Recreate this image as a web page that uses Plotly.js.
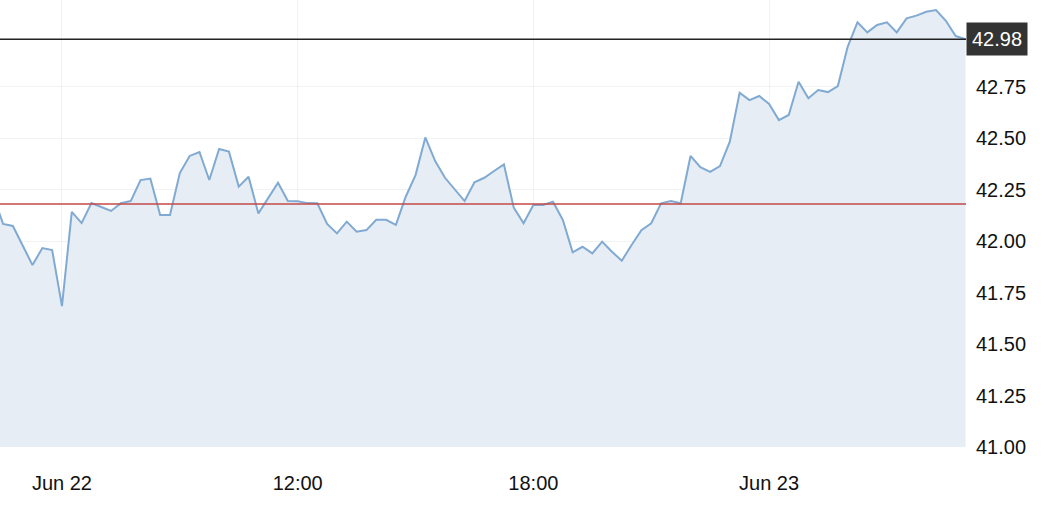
<!DOCTYPE html>
<html>
<head>
<meta charset="utf-8">
<script src="https://cdn.plot.ly/plotly-3.0.1.min.js"></script>
<style>
  html, body { margin: 0; padding: 0; background: #ffffff; }
  #chart { width: 1060px; height: 516px; }
</style>
</head>
<body>
<div id="chart"></div>
<script>
// 15-minute price samples (first value starts just before the visible window)
const prices = [
  42.223, 42.083, 42.073, 41.978, 41.883, 41.966, 41.956, 41.684, 42.141, 42.087,
  42.184, 42.165, 42.146, 42.184, 42.194, 42.296, 42.303, 42.126, 42.126, 42.330,
  42.413, 42.432, 42.296, 42.447, 42.434, 42.264, 42.312, 42.134, 42.209, 42.283,
  42.194, 42.193, 42.184, 42.183, 42.083, 42.037, 42.094, 42.045, 42.053, 42.103,
  42.103, 42.078, 42.215, 42.320, 42.503, 42.388, 42.307, 42.248, 42.194, 42.285,
  42.307, 42.340, 42.372, 42.162, 42.086, 42.175, 42.175, 42.191, 42.102, 41.945,
  41.972, 41.940, 41.997, 41.948, 41.904, 41.981, 42.053, 42.086, 42.183, 42.194,
  42.183, 42.413, 42.358, 42.336, 42.364, 42.482, 42.720, 42.684, 42.704, 42.665,
  42.587, 42.612, 42.773, 42.693, 42.733, 42.723, 42.752, 42.943, 43.062, 43.013,
  43.049, 43.062, 43.013, 43.081, 43.094, 43.113, 43.121, 43.069, 42.995, 42.98
];
const firstSlot = -1;                       // slot of the first sample
const tickSlots = [6, 30, 54, 78];
const tickLabels = ["Jun 22", "12:00", "18:00", "Jun 23"];
const yTicks = [41.00, 41.25, 41.50, 41.75, 42.00, 42.25, 42.50, 42.75];
const previousClose = 42.18;
const lastPrice = 42.98;

const slots = prices.map((_, i) => firstSlot + i);

const trace = {
  x: slots,
  y: prices,
  type: "scatter",
  mode: "lines",
  line: { color: "rgb(128,170,210)", width: 2 },
  fill: "tozeroy",
  fillcolor: "rgb(231,237,244)",
  hoverinfo: "skip"
};

const layout = {
  width: 1060,
  height: 516,
  margin: { l: 0, r: 94, t: 0, b: 69, pad: 0 },
  paper_bgcolor: "#ffffff",
  plot_bgcolor: "#ffffff",
  showlegend: false,
  font: { family: "Liberation Sans, Arial, sans-serif", size: 20, color: "#111111" },
  xaxis: {
    range: [-0.31, 98.05],
    tickmode: "array",
    tickvals: tickSlots,
    ticktext: tickLabels,
    showgrid: true,
    gridcolor: "rgba(232,232,232,0.55)",
    gridwidth: 1,
    zeroline: false,
    showline: false,
    ticks: "",
    ticklabelstandoff: 22,
    tickfont: { size: 20, color: "#111111" },
    fixedrange: true
  },
  yaxis: {
    side: "right",
    range: [41, 43.17],
    tickmode: "array",
    tickvals: yTicks,
    ticktext: yTicks.map(v => v.toFixed(2)),
    showgrid: true,
    gridcolor: "rgba(232,232,232,0.55)",
    gridwidth: 1,
    zeroline: false,
    showline: false,
    ticks: "",
    ticklabelstandoff: 9,
    tickfont: { size: 20, color: "#111111" },
    fixedrange: true
  },
  shapes: [
    {
      type: "line", xref: "paper", x0: 0, x1: 1, yref: "y",
      y0: previousClose, y1: previousClose,
      line: { color: "rgb(196,72,72)", width: 1.5 }
    },
    {
      type: "line", xref: "paper", x0: 0, x1: 1, yref: "y",
      y0: lastPrice, y1: lastPrice,
      line: { color: "#222222", width: 1.5 }
    }
  ],
  annotations: [
    {
      xref: "paper", x: 1, xanchor: "left",
      yref: "y", y: lastPrice, yanchor: "middle",
      text: lastPrice.toFixed(2),
      showarrow: false,
      bgcolor: "#333333",
      borderpad: 5,
      font: { size: 20, color: "#ffffff" }
    }
  ]
};

Plotly.newPlot("chart", [trace], layout, { displayModeBar: false, staticPlot: true });
</script>
</body>
</html>
